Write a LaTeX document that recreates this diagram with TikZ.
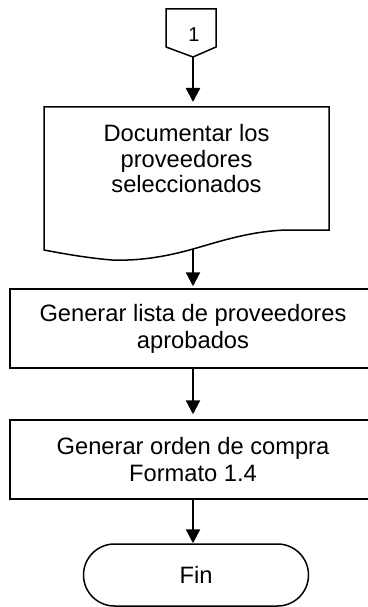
\documentclass[tikz,border=0pt]{standalone}
\usepackage{fontspec}
\setmainfont{Liberation Sans}
\usetikzlibrary{arrows.meta,shapes.misc}
\begin{document}
\begin{tikzpicture}[x=1pt,y=-1pt,
  shapeline/.style={draw=black,line width=1.5pt},
  procbox/.style={shapeline,rectangle,minimum width=366pt,minimum height=79pt,inner sep=0pt,align=center,font=\fontsize{23.7}{27}\selectfont},
  termbox/.style={shapeline,rounded rectangle,minimum width=225pt,minimum height=62pt,inner sep=0pt,font=\fontsize{23.7}{27}\selectfont},
  flowarrow/.style={draw=black,line width=2.3pt,-{Triangle[width=14pt,length=14pt]}}]
\useasboundingbox (0,0) rectangle (367,607);
% off-page connector
\draw[shapeline,line join=miter] (166,9) -- (216,9) -- (216,47) -- (193,57) -- (166,47) -- cycle;
\coordinate (conntip) at (193,57);
\node[font=\fontsize{20}{22}\selectfont,inner sep=0pt] (connlabel) at (194,35) {1};
% document shape
\draw[shapeline,line join=miter] (44,107) -- (329,107) -- (329,230) -- (287,230)
  .. controls (250,231) and (218,242) .. (193,249)
  .. controls (165,257) and (138,261) .. (112,260)
  .. controls (88,258) and (65,254) .. (44,250) -- cycle;
\coordinate (doctop) at (193,107);
\coordinate (docbottom) at (193,249);
\node[align=center,inner sep=0pt,font=\fontsize{23.7}{25.5}\selectfont] (doctext) at (186.5,159) {Documentar los\\proveedores\\seleccionados};
% process boxes
\node[procbox] (lista) at (193,328.5) {Generar lista de proveedores\\aprobados};
\node[procbox] (orden) at (193,459.5) {Generar orden de compra\\Formato 1.4};
\node[termbox] (fin) at (196,575) {Fin};
% connectors
\draw[flowarrow,shorten >=5pt] (conntip) -- (doctop);
\draw[flowarrow,shorten >=2pt] (docbottom) -- (lista.north);
\draw[flowarrow,shorten >=5pt] (lista.south) -- (orden.north);
\draw[flowarrow] (orden.south) -- (orden.south |- fin.north);
\end{tikzpicture}
\end{document}
